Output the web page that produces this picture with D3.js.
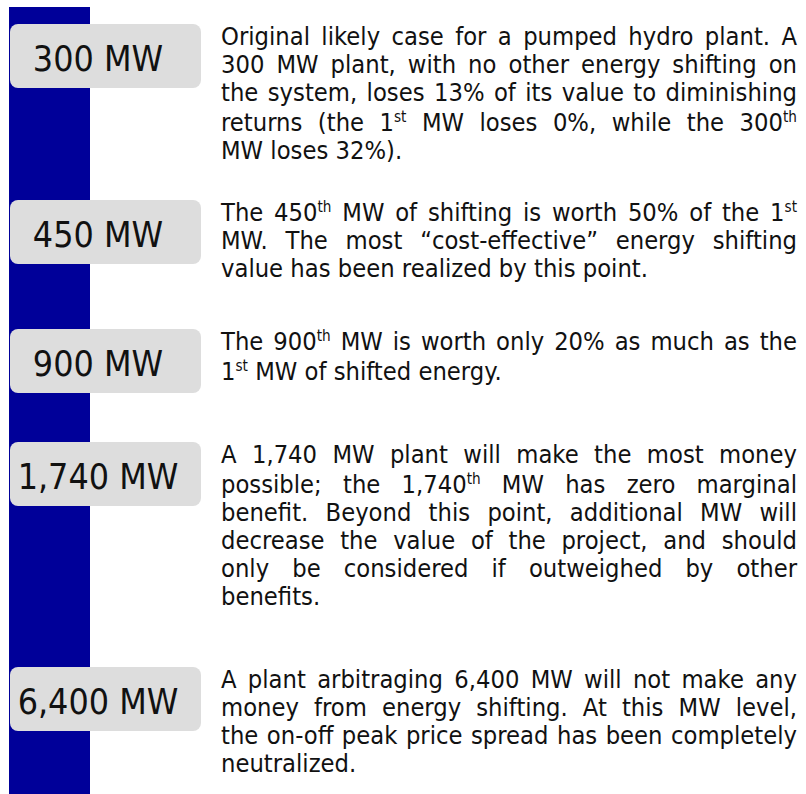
<!DOCTYPE html>
<html>
<head>
<meta charset="utf-8">
<script src="https://cdn.jsdelivr.net/npm/d3@7"></script>
<style>
  body { margin: 0; background: #fff; }
  svg { display: block; }
</style>
</head>
<body>
<script>
// plant sizes (MW) in the grey tags
const plantMW = [300, 450, 900, 1740, 6400];

// notes next to each tag, one string per printed line, ^{..} = superscript
const notes = [
  ["Original likely case for a pumped hydro plant. A",
   "300 MW plant, with no other energy shifting on",
   "the system, loses 13% of its value to diminishing",
   "returns (the 1^{st} MW loses 0%, while the 300^{th}",
   "MW loses 32%)."],
  ["The 450^{th} MW of shifting is worth 50% of the 1^{st}",
   "MW. The most \u201ccost-effective\u201d energy shifting",
   "value has been realized by this point."],
  ["The 900^{th} MW is worth only 20% as much as the",
   "1^{st} MW of shifted energy."],
  ["A 1,740 MW plant will make the most money",
   "possible; the 1,740^{th} MW has zero marginal",
   "benefit. Beyond this point, additional MW will",
   "decrease the value of the project, and should",
   "only be considered if outweighed by other",
   "benefits."],
  ["A plant arbitraging 6,400 MW will not make any",
   "money from energy shifting. At this MW level,",
   "the on-off peak price spread has been completely",
   "neutralized."]
];

// ---- layout ----
const width = 806, height = 794;
const blockTop = [24, 200, 329, 442, 667];   // top of each tag / paragraph
const tagX = 10, tagW = 191, tagH = 64, tagR = 8, tagCx = 98;
const textLeft = 221, textRight = 797;
const bodySize = 25, bodySX = 0.91, supSize = 15, supRise = 9;
const lineGap = 28, supExtra = 2;
const font = "'DejaVu Sans', Verdana, sans-serif";

const fmt = d3.format(",");
const y = d3.scaleOrdinal().domain(plantMW).range(blockTop);

const svg = d3.select("body").append("svg")
    .attr("width", width)
    .attr("height", height);

// blue bar down the left side
svg.append("rect")
    .attr("x", 9).attr("y", 7)
    .attr("width", 81).attr("height", height - 7)
    .attr("fill", "#000099");

// grey tags
const tags = svg.selectAll("g.tag")
  .data(plantMW)
  .enter().append("g")
    .attr("class", "tag");

tags.append("rect")
    .attr("x", tagX)
    .attr("y", d => y(d))
    .attr("width", tagW)
    .attr("height", tagH)
    .attr("rx", tagR)
    .attr("fill", "#dddddd");

tags.append("text")
    .attr("transform", d => "translate(" + tagCx + "," + (y(d) + 47) + ") scale(0.9,1)")
    .attr("text-anchor", "middle")
    .attr("font-family", font)
    .attr("font-size", 35.5)
    .attr("fill", "#111")
    .text(d => fmt(d) + " MW");

// split "1,740^{th}" into plain / superscript pieces
function pieces(word) {
  const out = [];
  const re = /\^\{([^}]*)\}/g;
  let last = 0, m;
  while ((m = re.exec(word)) !== null) {
    if (m.index > last) out.push({t: word.slice(last, m.index), sup: false});
    out.push({t: m[1], sup: true});
    last = re.lastIndex;
  }
  if (last < word.length) out.push({t: word.slice(last), sup: false});
  return out;
}

const spaceW = 0.318 * bodySize;
const avail = (textRight - textLeft) / bodySX;

notes.forEach((lines, p) => {
  let base = y(plantMW[p]) + 21;
  lines.forEach((line, li) => {
    if (li > 0) base += lineGap + (line.indexOf("^{") >= 0 ? supExtra : 0);
    const g = svg.append("g")
        .attr("transform", "translate(" + textLeft + "," + base + ") scale(" + bodySX + ",1)")
        .attr("font-family", font)
        .attr("font-size", bodySize)
        .attr("fill", "#111");

    const words = line.split(" ");
    const nodes = words.map(w => {
      const t = g.append("text").attr("y", 0);
      let raised = false;
      pieces(w).forEach(pc => {
        const ts = t.append("tspan").text(pc.t);
        if (pc.sup && !raised) { ts.attr("font-size", supSize).attr("dy", -supRise); raised = true; }
        else if (pc.sup) { ts.attr("font-size", supSize); }
        else if (raised) { ts.attr("dy", supRise); raised = false; }
      });
      return t;
    });

    const widths = nodes.map(t => t.node().getComputedTextLength());
    const total = d3.sum(widths);
    const lastLine = li === lines.length - 1;
    const gap = (!lastLine && words.length > 1)
      ? (avail - total) / (words.length - 1)
      : spaceW;

    let x = 0;
    nodes.forEach((t, i) => {
      t.attr("x", x);
      x += widths[i] + gap;
    });
  });
});
</script>
</body>
</html>
